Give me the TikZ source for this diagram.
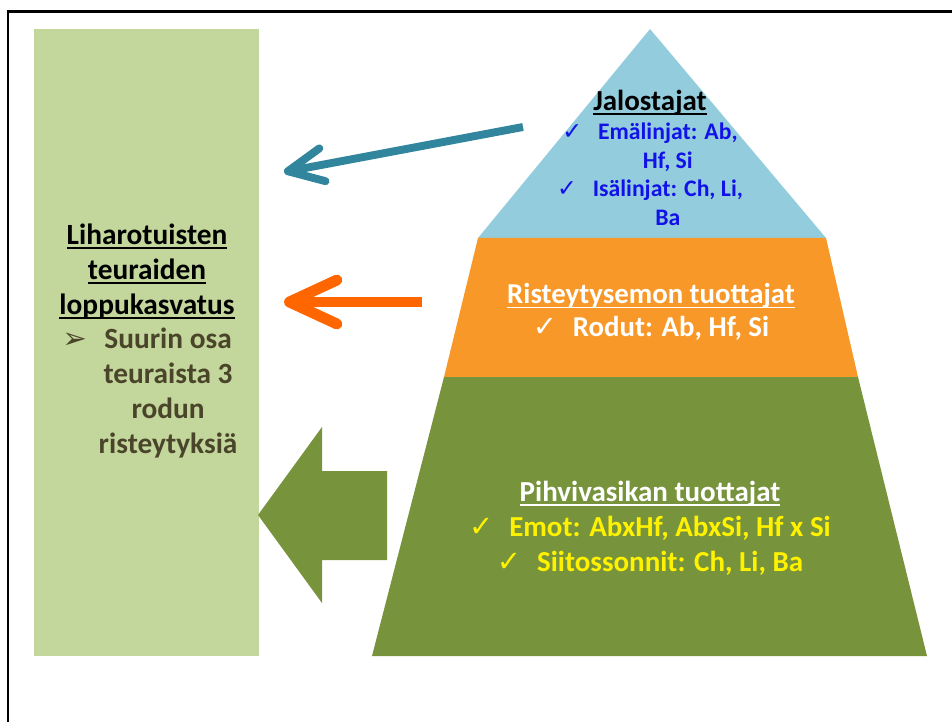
\documentclass[tikz,border=0pt]{standalone}
\usepackage{fontspec}
\setmainfont{Carlito}
\newfontfamily\symfont{DejaVu Sans}
\usetikzlibrary{arrows.meta}
\definecolor{boxgreen}{RGB}{195,214,155}
\definecolor{topblue}{RGB}{147,205,221}
\definecolor{midorange}{RGB}{248,152,40}
\definecolor{basegreen}{RGB}{119,147,60}
\definecolor{arrowteal}{RGB}{49,133,156}
\definecolor{arroworange}{RGB}{255,102,0}
\definecolor{textolive}{RGB}{74,69,42}
\definecolor{textblue}{RGB}{18,18,232}
\newcommand\chk{{\symfont ✓}\hspace{9pt}}
\newcommand\pointer{{\symfont ➢}\hspace{10pt}}
\newcommand\undl[1]{\setbox0\hbox{#1}\rlap{\rule[-2.6pt]{\wd0}{1pt}}\box0}
\begin{document}
\begin{tikzpicture}[x=0.02cm,y=-0.02cm]
  \tikzstyle{level}=[font=\bfseries, align=center, inner sep=0pt]
  \tikzstyle{pointer}=[line width=#1]
  \useasboundingbox (0,0) rectangle (952,722);
  \draw[line width=1.7pt] (8,722) -- (8,12) -- (952,12);
  % final growing box
  \fill[boxgreen] (34,29) rectangle (259,656);
  \node[level, text=textolive, font=\bfseries\fontsize{16.7}{19.8}\selectfont] (fin) at (147,341)
    {\textcolor{black}{\undl{Liharotuisten}}\\
     \textcolor{black}{\undl{teuraiden}}\\
     \textcolor{black}{\undl{loppukasvatus}}\\
     \pointer Suurin osa\\
     \phantom{\pointer}teuraista 3\\
     \phantom{\pointer}rodun\\
     \phantom{\pointer}risteytyksiä};
  % pyramid
  \fill[topblue] (650,29) -- (826,238) -- (478,238) -- cycle;
  \fill[midorange] (478,238) -- (826,238) -- (858,377) -- (444,377) -- cycle;
  \fill[basegreen] (444,377) -- (858,377) -- (927,656) -- (372,656) -- cycle;
  \node[level, text=textblue, font=\bfseries\fontsize{13.5}{16.4}\selectfont] (top) at (650,158)
    {\textcolor{black}{\fontsize{16.5}{16.4}\selectfont\undl{Jalostajat}}\\
     \chk Emälinjat: Ab,\\
     \phantom{\chk}Hf, Si\\
     \chk Isälinjat: Ch, Li,\\
     \phantom{\chk}Ba};
  \node[level, text=white, font=\bfseries\fontsize{16.4}{18.7}\selectfont] (mid) at (651,312)
    {\undl{Risteytysemon tuottajat}\\
     \chk Rodut: Ab, Hf, Si};
  \node[level, text=yellow, font=\bfseries\fontsize{16.5}{20}\selectfont] (base) at (650,528)
    {\textcolor{white}{\undl{Pihvivasikan tuottajat}}\\
     \chk Emot: AbxHf, AbxSi, Hf x Si\\
     \chk Siitossonnit: Ch, Li, Ba};
  % arrows
  \coordinate (t1) at (523,127);
  \coordinate (t2) at (284,172);
  \coordinate (m1) at (422,302);
  \coordinate (m2) at (284,302);
  \draw[arrowteal, pointer=4.5pt, -{Straight Barb[round,length=20pt,width=19pt]}] (t1) -- (t2);
  \draw[arroworange, pointer=6.2pt, -{Straight Barb[round,length=27pt,width=25pt]}] (m1) -- (m2);
  \fill[basegreen] (258,515) -- (322,427) -- (322,471) -- (387,471) -- (387,560)
    -- (322,560) -- (322,603) -- cycle;
\end{tikzpicture}
\end{document}
